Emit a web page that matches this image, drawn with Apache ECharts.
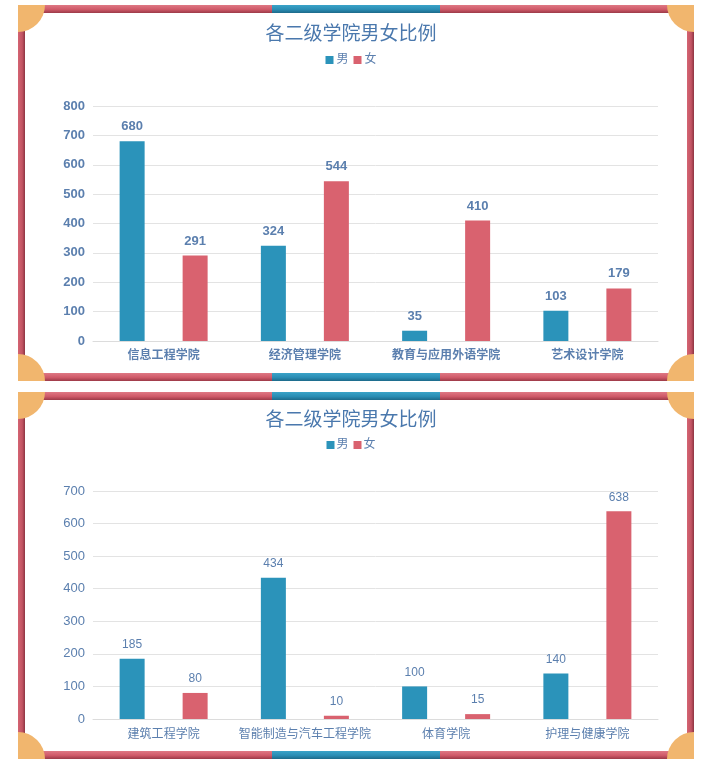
<!DOCTYPE html>
<html><head><meta charset="utf-8">
<script src="https://cdn.jsdelivr.net/npm/echarts@6/dist/echarts.min.js"></script>
<style>html,body{margin:0;padding:0;background:#fff}#c{width:702px;height:764px}</style>
</head><body><div id="c"></div>
<script>
var titleText = '各二级学院男女比例';
var seriesNames = ['男', '女'];
var cats1 = ['信息工程学院', '经济管理学院', '教育与应用外语学院', '艺术设计学院'];
var male1 = [680, 324, 35, 103];
var female1 = [291, 544, 410, 179];
var yMax1 = 800;
var cats2 = ['建筑工程学院', '智能制造与汽车工程学院', '体育学院', '护理与健康学院'];
var male2 = [185, 434, 100, 140];
var female2 = [80, 10, 15, 638];
var yMax2 = 700;

var FONT = "'Liberation Sans', 'Noto Sans CJK SC', sans-serif";
var BLUE = '#2b93ba', RED = '#d9626f';
var TXT = '#5b7fae';

function pinkGradH(){return new echarts.graphic.LinearGradient(0,0,0,1,[{offset:0,color:'#df7884'},{offset:0.55,color:'#cf5a69'},{offset:1,color:'#9c3a48'}]);}
function blueGradH(){return new echarts.graphic.LinearGradient(0,0,0,1,[{offset:0,color:'#3aa3c8'},{offset:0.55,color:'#2a8db4'},{offset:1,color:'#1d6a8a'}]);}
function pinkGradV(){return new echarts.graphic.LinearGradient(0,0,1,0,[{offset:0,color:'#d46472'},{offset:0.6,color:'#c25463'},{offset:1,color:'#8e3442'}]);}

function frame(y0, y1){
  var L=18, R=694, T=8, rr=27, els=[];
  els.push({type:'rect',shape:{x:L,y:y0,width:R-L,height:T},style:{fill:pinkGradH()}});
  els.push({type:'rect',shape:{x:272,y:y0,width:168,height:T},style:{fill:blueGradH()}});
  els.push({type:'rect',shape:{x:L,y:y1-T,width:R-L,height:T},style:{fill:pinkGradH()}});
  els.push({type:'rect',shape:{x:272,y:y1-T,width:168,height:T},style:{fill:blueGradH()}});
  els.push({type:'rect',shape:{x:L,y:y0,width:7,height:y1-y0},style:{fill:pinkGradV()}});
  els.push({type:'rect',shape:{x:R-7,y:y0,width:7,height:y1-y0},style:{fill:pinkGradV()}});
  var oc='#f1b66e';
  els.push({type:'sector',shape:{cx:L,cy:y0,r:rr,r0:0,startAngle:0,endAngle:Math.PI/2},style:{fill:oc},z:10});
  els.push({type:'sector',shape:{cx:R,cy:y0,r:rr,r0:0,startAngle:Math.PI/2,endAngle:Math.PI},style:{fill:oc},z:10});
  els.push({type:'sector',shape:{cx:L,cy:y1,r:rr,r0:0,startAngle:Math.PI*1.5,endAngle:Math.PI*2},style:{fill:oc},z:10});
  els.push({type:'sector',shape:{cx:R,cy:y1,r:rr,r0:0,startAngle:Math.PI,endAngle:Math.PI*1.5},style:{fill:oc},z:10});
  return els;
}

function barSeries(name, data, xi, color, bold){
  return {
    name:name, type:'bar', xAxisIndex:xi, yAxisIndex:xi, data:data,
    barWidth:25, barGap:'152%',
    itemStyle:{color:color},
    label:{show:true, position:'top', distance:8, color:TXT, fontSize:bold?13:12, fontWeight:bold?'bold':'normal', fontFamily:FONT}
  };
}

var chart = echarts.init(document.getElementById('c'));
chart.setOption({
  backgroundColor:'#ffffff',
  animation:false,
  color:[BLUE, RED],
  title:[
    {text:titleText, left:'center', top:20, textStyle:{color:'#4a78ad', fontSize:19, fontWeight:'normal', fontFamily:FONT}},
    {text:titleText, left:'center', top:406, textStyle:{color:'#4a78ad', fontSize:19, fontWeight:'normal', fontFamily:FONT}}
  ],
  legend:[
    {data:seriesNames, top:49, left:'center', itemWidth:8, itemHeight:8, itemGap:5, icon:'rect', textStyle:{color:TXT, fontSize:12, fontFamily:FONT, padding:[0,0,0,-2]}}
  ],
  grid:[
    {left:93, width:565, top:106, height:235},
    {left:93, width:565, top:491, height:228}
  ],
  xAxis:[
    {type:'category', gridIndex:0, data:cats1, axisTick:{show:false}, axisLine:{lineStyle:{color:'#dcdcdc'}}, axisLabel:{interval:0, color:TXT, fontSize:12, fontWeight:'bold', margin:9, fontFamily:FONT}},
    {type:'category', gridIndex:1, data:cats2, axisTick:{show:false}, axisLine:{lineStyle:{color:'#dcdcdc'}}, axisLabel:{interval:0, color:TXT, fontSize:12, margin:10, fontFamily:FONT}}
  ],
  yAxis:[
    {type:'value', gridIndex:0, min:0, max:yMax1, interval:100, axisLine:{show:false}, axisTick:{show:false}, splitLine:{lineStyle:{color:'#e3e3e3'}}, axisLabel:{color:TXT, fontSize:13, fontWeight:'bold', margin:8, fontFamily:FONT}},
    {type:'value', gridIndex:1, min:0, max:yMax2, interval:100, axisLine:{show:false}, axisTick:{show:false}, splitLine:{lineStyle:{color:'#e3e3e3'}}, axisLabel:{color:TXT, fontSize:13, margin:8, fontFamily:FONT}}
  ],
  series:[
    barSeries(seriesNames[0], male1, 0, BLUE, true),
    barSeries(seriesNames[1], female1, 0, RED, true),
    barSeries(seriesNames[0], male2, 1, BLUE, false),
    barSeries(seriesNames[1], female2, 1, RED, false)
  ],
  graphic:{elements: frame(5, 381).concat(frame(392, 759)).concat([
    {type:'group', left:'center', top:439, children:[
      {type:'rect', shape:{x:0,y:2,width:8,height:8}, style:{fill:BLUE}},
      {type:'text', x:10, y:0, style:{text:seriesNames[0], fill:TXT, font:'12px '+FONT}},
      {type:'rect', shape:{x:27,y:2,width:8,height:8}, style:{fill:RED}},
      {type:'text', x:37, y:0, style:{text:seriesNames[1], fill:TXT, font:'12px '+FONT}}
    ]}
  ])}
});
</script></body></html>
